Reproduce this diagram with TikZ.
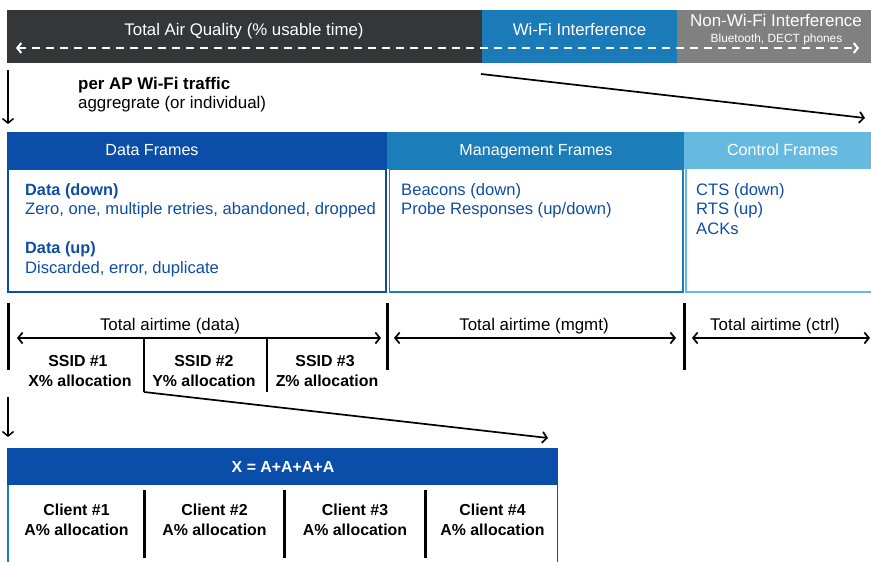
\documentclass[tikz,border=0pt]{standalone}
\usepackage{fontspec}
\setmainfont{Liberation Sans}
\usetikzlibrary{arrows.meta}
\definecolor{cdark}{HTML}{353638}
\definecolor{cwifi}{HTML}{1B7BB8}
\definecolor{cgrey}{HTML}{808080}
\definecolor{cdblue}{HTML}{0B4EA9}
\definecolor{cmblue}{HTML}{1B7DB9}
\definecolor{clblue}{HTML}{66BAE0}
\definecolor{ctext}{HTML}{0E4DA4}
\begin{document}
\begin{tikzpicture}[x=1pt,y=-1pt,
  box/.style={draw=none,inner sep=0pt,outer sep=0pt,anchor=north west},
  txt/.style={inner sep=0pt,anchor=base,font=\fontsize{16.9}{19}\selectfont},
  ltxt/.style={inner sep=0pt,anchor=base west,font=\fontsize{16.6}{19}\selectfont,text=ctext},
  ttl/.style={inner sep=0pt,anchor=base,font=\fontsize{16.8}{19}\selectfont,text=white},
  htxt/.style={inner sep=0pt,anchor=base,text=white,font=\fontsize{16.1}{19}\selectfont},
  btxt/.style={inner sep=0pt,anchor=base,font=\fontsize{15.9}{18}\selectfont\bfseries},
  barb/.style={line width=1.7pt,-{Straight Barb[length=4.5pt,width=11pt]}},
  dbarb/.style={line width=1.7pt,{Straight Barb[length=4.5pt,width=11pt]}-{Straight Barb[length=4.5pt,width=11pt]}},
  tick/.style={line width=3pt},
  divi/.style={line width=2.6pt}]
\useasboundingbox (0,0) rectangle (871,562);

% ---------- top bar
\node[box,fill=cdark,minimum width=475pt,minimum height=53pt] (aq) at (7,10) {};
\node[box,fill=cwifi,minimum width=195pt,minimum height=53pt] (wi) at (482,10) {};
\node[box,fill=cgrey,minimum width=195pt,minimum height=53pt] (nw) at (677,10) {};
\node[ttl] (aqt) at (244,35) {Total Air Quality (\% usable time)};
\node[ttl] (wit) at (579.5,35) {Wi-Fi Interference};
\node[ttl,font=\fontsize{17}{19}\selectfont] (nwt) at (776,27) {Non-Wi-Fi Interference};
\node[inner sep=0pt,anchor=base,text=white,font=\fontsize{11.9}{13}\selectfont] (nws) at (776.5,42) {Bluetooth, DECT phones};
\coordinate (dl) at (16,48);
\coordinate (dr) at (859,48);
\draw[white,line width=2pt,dash pattern=on 8pt off 6pt,
  {Straight Barb[length=4pt,width=10pt]}-{Straight Barb[length=4pt,width=10pt]}] (dl) -- (dr);

% ---------- per AP
\coordinate (d1a) at (8,70);
\coordinate (d1b) at (8,124);
\draw[line width=1.5pt,-{Straight Barb[length=4.5pt,width=11pt]}] (d1a) -- (d1b);
\node[inner sep=0pt,anchor=base west,font=\fontsize{16.9}{19}\selectfont\bfseries] (ap1) at (78,89.5) {per AP Wi-Fi traffic};
\node[inner sep=0pt,anchor=base west,font=\fontsize{16.9}{19}\selectfont] (ap2) at (78,108.5) {aggregrate (or individual)};
\coordinate (g1) at (481,74);
\coordinate (g2) at (865,118);
\draw[barb] (g1) -- (g2);

% ---------- frame boxes
\node[box,fill=cdblue,minimum width=380pt,minimum height=37pt] (dfh) at (7,132) {};
\node[box,fill=cmblue,minimum width=297pt,minimum height=37pt] (mfh) at (387,132) {};
\node[box,fill=clblue,minimum width=187pt,minimum height=37pt] (cfh) at (684,132) {};
\node[htxt] (dft) at (152,155.5) {Data Frames};
\node[htxt] (mft) at (536,155.5) {Management Frames};
\node[htxt] (cft) at (782.5,155.5) {Control Frames};

\draw[cdblue,line width=1.8pt] (8,169) rectangle (386,292);
\draw[cmblue,line width=1.8pt] (389.5,169) rectangle (683,292);
\draw[clblue,line width=1.8pt] (686,169) -- (686,292) -- (872,292);

\node[ltxt,font=\fontsize{16.3}{19}\selectfont\bfseries] (dd1) at (25,195) {Data (down)};
\node[ltxt] (dd2) at (25,214.5) {Zero, one, multiple retries, abandoned, dropped};
\node[ltxt,font=\fontsize{16.3}{19}\selectfont\bfseries] (du1) at (25,253.5) {Data (up)};
\node[ltxt] (du2) at (25,273) {Discarded, error, duplicate};
\node[ltxt] (m1) at (401,195) {Beacons (down)};
\node[ltxt] (m2) at (401,214.5) {Probe Responses (up/down)};
\node[ltxt] (c1) at (696,195) {CTS (down)};
\node[ltxt] (c2) at (696,214.5) {RTS (up)};
\node[ltxt] (c3) at (696,234) {ACKs};

% ---------- airtime
\coordinate (t1a) at (8,303);   \coordinate (t1b) at (8,370);
\coordinate (t2a) at (387,303); \coordinate (t2b) at (387,370);
\coordinate (t3a) at (684,303); \coordinate (t3b) at (684,370);
\draw[tick] (t1a) -- (t1b);
\draw[tick] (t2a) -- (t2b);
\draw[tick] (t3a) -- (t3b);
\coordinate (a1l) at (17,338);  \coordinate (a1r) at (381,338);
\coordinate (a2l) at (394,338); \coordinate (a2r) at (676,338);
\coordinate (a3l) at (692,338); \coordinate (a3r) at (870,338);
\draw[dbarb] (a1l) -- (a1r);
\draw[dbarb] (a2l) -- (a2r);
\draw[dbarb] (a3l) -- (a3r);
\node[txt] (l1) at (170,330) {Total airtime (data)};
\node[txt] (l2) at (534,330) {Total airtime (mgmt)};
\node[txt] (l3) at (775,330) {Total airtime (ctrl)};

\coordinate (s1a) at (144,339); \coordinate (s1b) at (144,392);
\coordinate (s2a) at (267,339); \coordinate (s2b) at (267,392);
\draw[divi] (s1a) -- (s1b);
\draw[divi] (s2a) -- (s2b);
\coordinate (g3) at (548,438);
\draw[barb] (s1b) -- (g3);
\node[btxt] (ss1) at (78,366.5) {SSID \#1};
\node[btxt] (sa1) at (80,386.5) {X\% allocation};
\node[btxt] (ss2) at (204,366.5) {SSID \#2};
\node[btxt] (sa2) at (204,386.5) {Y\% allocation};
\node[btxt] (ss3) at (325,366.5) {SSID \#3};
\node[btxt] (sa3) at (327,386.5) {Z\% allocation};

\coordinate (d2a) at (8,397);
\coordinate (d2b) at (8,437);
\draw[line width=1.5pt,-{Straight Barb[length=4.5pt,width=11pt]}] (d2a) -- (d2b);

% ---------- clients
\node[box,fill=cdblue,minimum width=551pt,minimum height=37pt] (xh) at (7,448) {};
\node[inner sep=0pt,anchor=base,text=white,font=\fontsize{15.9}{18}\selectfont\bfseries] (xt) at (283,472.5) {X = A+A+A+A};
\draw[cmblue,line width=1.5pt] (8,485) -- (8,563);
\draw[cdblue,line width=1.5pt] (557.3,485) -- (557.3,563);
\coordinate (k1a) at (144.5,490); \coordinate (k1b) at (144.5,558);
\coordinate (k2a) at (284,490);   \coordinate (k2b) at (284,558);
\coordinate (k3a) at (425.5,490); \coordinate (k3b) at (425.5,558);
\draw[tick] (k1a) -- (k1b);
\draw[tick] (k2a) -- (k2b);
\draw[tick] (k3a) -- (k3b);
\node[btxt] (cl1) at (76.5,515) {Client \#1};
\node[btxt] (ca1) at (76.5,535) {A\% allocation};
\node[btxt] (cl2) at (214.5,515) {Client \#2};
\node[btxt] (ca2) at (214.5,535) {A\% allocation};
\node[btxt] (cl3) at (355,515) {Client \#3};
\node[btxt] (ca3) at (355,535) {A\% allocation};
\node[btxt] (cl4) at (492.5,515) {Client \#4};
\node[btxt] (ca4) at (492.5,535) {A\% allocation};
\end{tikzpicture}
\end{document}
